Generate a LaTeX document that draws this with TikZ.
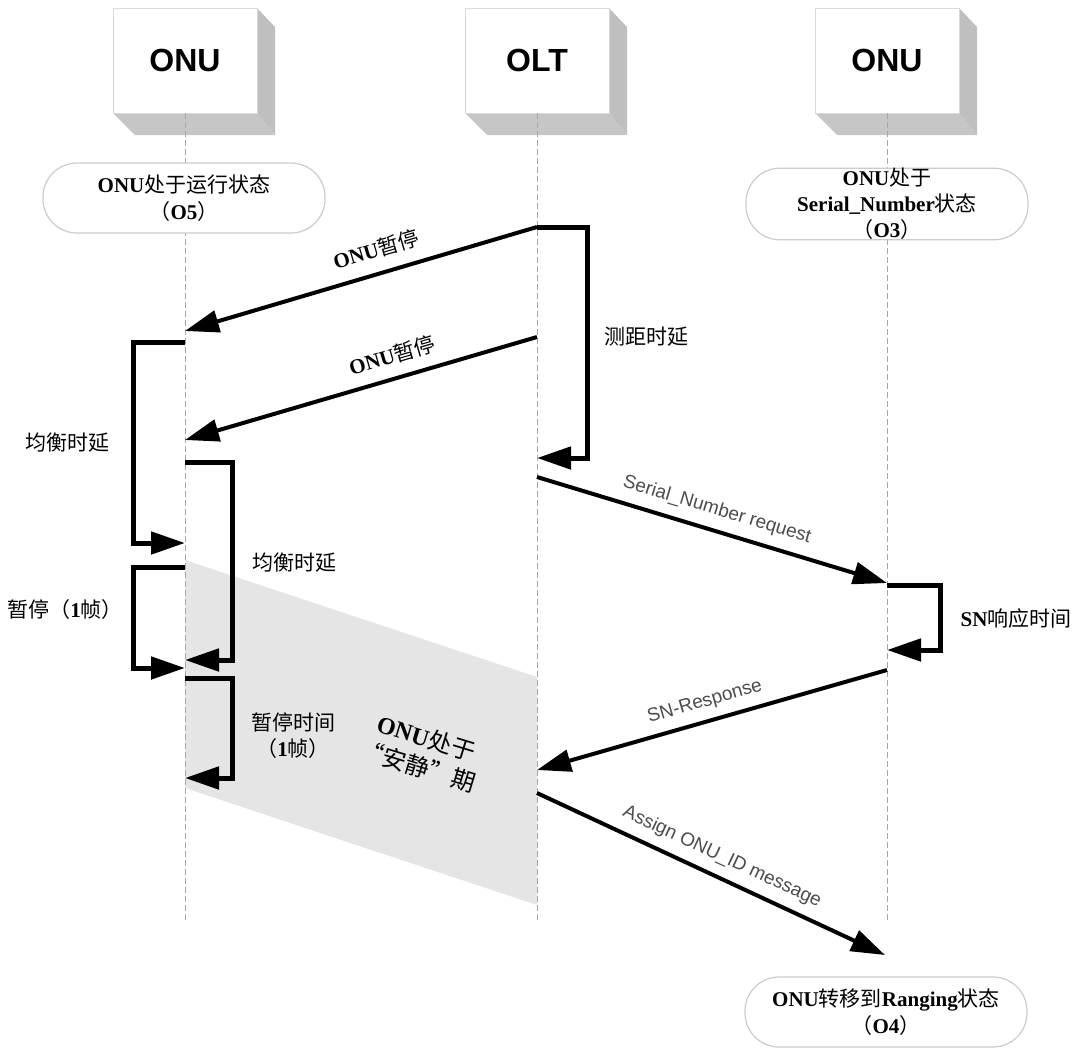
\documentclass[tikz,border=0pt]{standalone}
\usepackage{fontspec}
\setmainfont{Liberation Serif}
\newfontfamily\cjk{Noto Sans CJK SC}
\newfontfamily\arialf{Liberation Sans}
\usetikzlibrary{arrows.meta}
\newcommand{\zh}[1]{{\cjk\mdseries #1}}
\tikzset{
  life/.style={draw=gray!70, dash pattern=on 6pt off 3pt, line width=1pt},
  msg/.style={line width=4pt, -{Triangle[length=34pt,width=22pt]}},
  loopline/.style={line width=5pt, -{Triangle[length=34pt,width=22pt]}},
  state/.style={draw=gray!40, line width=1.2pt, fill=white, rounded corners=34pt,
    minimum width=282pt, minimum height=70pt, inner sep=0pt, align=center,
    font=\fontsize{21}{27}\selectfont\bfseries},
  note/.style={font=\fontsize{21}{26}\selectfont\bfseries, align=center},
  msglbl/.style={font=\arialf\fontsize{19}{22}\selectfont, text=black!70},
  boxlbl/.style={font=\arialf\bfseries\fontsize{32}{36}\selectfont}
}
\begin{document}
\begin{tikzpicture}[x=1pt,y=-1pt]
        \useasboundingbox (0,0) rectangle (1081,1050);

        \fill[gray!20] (185,560) -- (537,677) -- (537,905) -- (185,788) -- cycle;

        \foreach \cx/\nm/\txt in {185/onuL/ONU, 537/olt/OLT, 887/onuR/ONU}{
          \fill[gray!45] (\cx-72,113) -- (\cx+72,113) -- (\cx+90,135) -- (\cx-50,135) -- cycle;
          \fill[gray!50] (\cx+72,8) -- (\cx+90,27) -- (\cx+90,135) -- (\cx+72,113) -- cycle;
          \draw[gray!30, line width=1pt, fill=white] (\cx-72,8) rectangle (\cx+72,113);
          \node[boxlbl] (\nm) at (\cx,60) {\txt};
          \draw[life] (\cx,113) -- (\cx,920);
        }

        \node[state] (stO5) at (184,198) {ONU\zh{处于运行状态}\\\zh{（}O5\zh{）}};
        \node[state, font=\fontsize{21}{26}\selectfont\bfseries] (stO3) at (887,204)
          {ONU\zh{处于}\\Serial\_Number\zh{状态}\\\zh{（}O3\zh{）}};
        \node[state] (stO4) at (886,1012) {ONU\zh{转移到}Ranging\zh{状态}\\\zh{（}O4\zh{）}};

        \coordinate (o1) at (537,227);
        \coordinate (o2) at (537,337);
        \coordinate (o3) at (537,458);
        \coordinate (o4) at (537,477);
        \coordinate (o5) at (537,770);
        \coordinate (o6) at (537,793);
        \coordinate (a1) at (185,331);
        \coordinate (a2) at (185,342);
        \coordinate (a3) at (185,440);
        \coordinate (a4) at (185,462);
        \coordinate (a5) at (185,543);
        \coordinate (a6) at (185,567);
        \coordinate (a7) at (185,660);
        \coordinate (a8) at (185,668);
        \coordinate (a9) at (185,678);
        \coordinate (a10) at (185,778);
        \coordinate (b1) at (887,583);
        \coordinate (b2) at (887,585);
        \coordinate (b3) at (887,650);
        \coordinate (b4) at (887,670);
        \coordinate (asgEnd) at (885,955);

        \draw[msg] (o1) -- (a1);
        \draw[msg] (o2) -- (a3);
        \draw[loopline] (o1) -- ++(50,0) |- (o3);
        \draw[loopline] (a2) -- ++(-52,0) |- (a5);
        \draw[loopline] (a4) -- ++(47,0) |- (a7);
        \draw[loopline] (a6) -- ++(-52,0) |- (a8);
        \draw[loopline] (a9) -- ++(47,0) |- (a10);
        \draw[msg] (o4) -- (b1);
        \draw[loopline] (b2) -- ++(53,0) |- (b3);
        \draw[msg] (b4) -- (o5);
        \draw[msg] (o6) -- (asgEnd);

        \node[note, rotate=16.5] (lbStop1) at (376,249) {ONU\zh{暂停}};
        \node[note, rotate=16.3] (lbStop2) at (392,355) {ONU\zh{暂停}};
        \node[note] (lbRange) at (646,337) {\zh{测距时延}};
        \node[note] (lbEqL) at (67,443) {\zh{均衡时延}};
        \node[note] (lbEqR) at (294,563) {\zh{均衡时延}};
        \node[note] (lbPause) at (65,610) {\zh{暂停（}1\zh{帧）}};
        \node[note] (lbPauseT) at (293,736) {\zh{暂停时间}\\\zh{（}1\zh{帧）}};
        \node[note, font=\fontsize{24}{30}\selectfont\bfseries, rotate=-17] (lbQuiet) at (422,752)
          {ONU\zh{处于}\\\zh{“安静”期}};
        \node[note] (lbSNtime) at (1016,618) {SN\zh{响应时间}};
        \node[msglbl, rotate=-16.8] (lbSNreq) at (717,510) {Serial\_Number request};
        \node[msglbl, rotate=16] (lbSNresp) at (705,702) {SN-Response};
        \node[msglbl, rotate=-25] (lbAssign) at (722,857) {Assign ONU\_ID message};
\end{tikzpicture}
\end{document}
